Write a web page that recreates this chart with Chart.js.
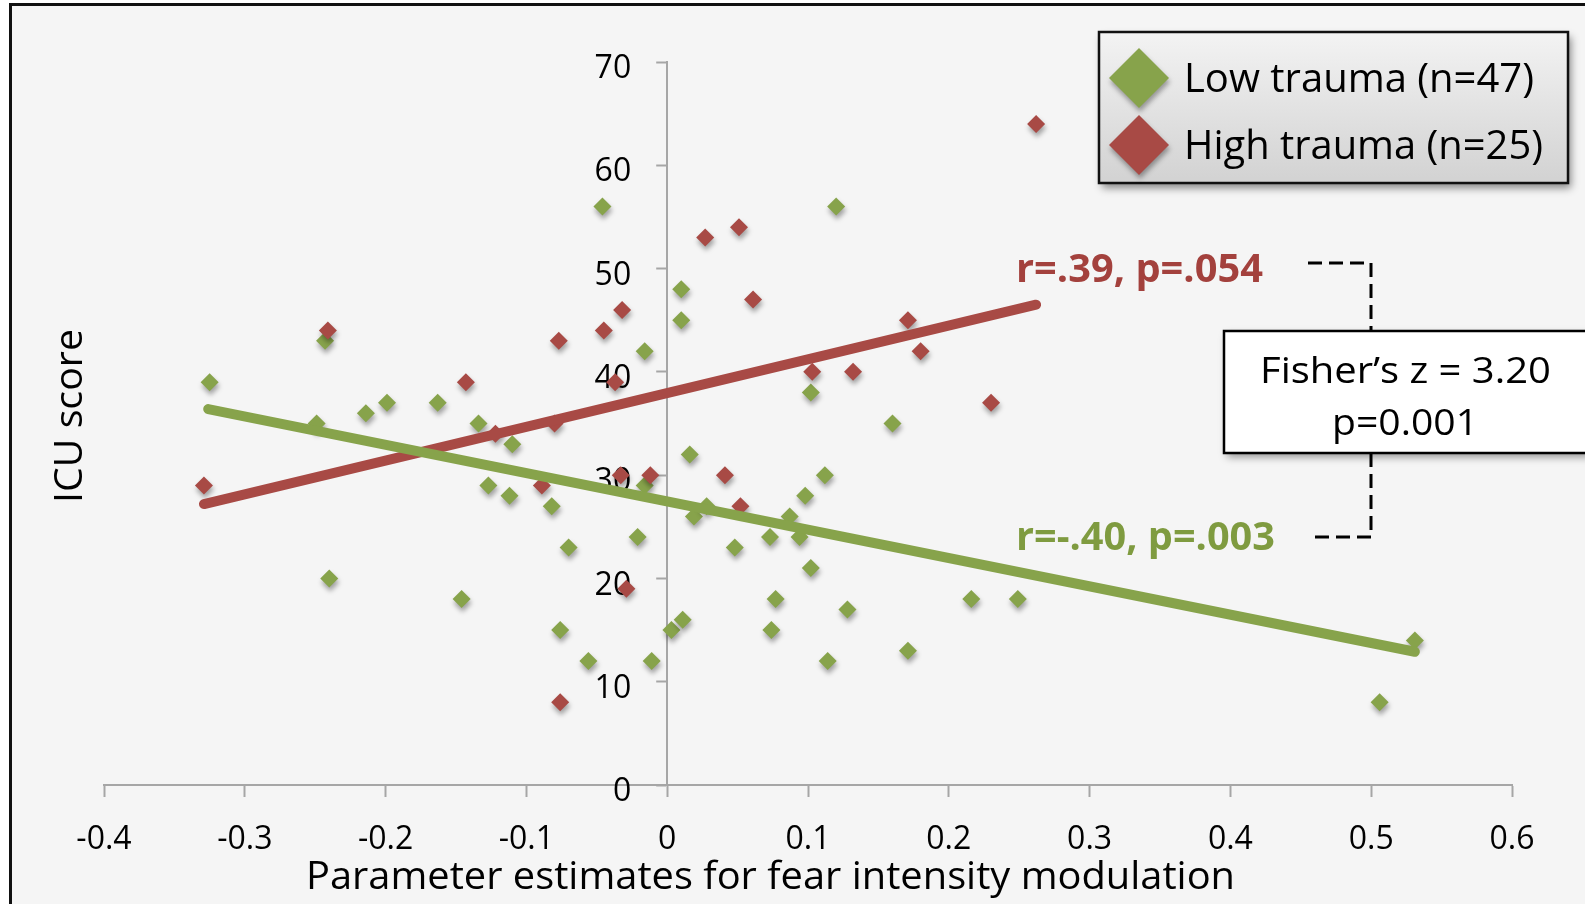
<!DOCTYPE html>
<html lang="en">
<head>
<meta charset="UTF-8">
<title>ICU score vs fear intensity modulation</title>
<style>
  body { margin: 0; background: #fff; }
  #wrap { width: 1585px; height: 904px; }
</style>
<script src="https://cdn.jsdelivr.net/npm/chart.js"></script>
</head>
<body>
<div id="wrap"><canvas id="chart" width="1585" height="904"></canvas></div>
<script>
// Low trauma group
const lowX = [-0.325, -0.243, -0.249, -0.214, -0.199, -0.163, -0.134, -0.240, -0.146, -0.127,
              -0.110, -0.112, -0.082, -0.070, -0.076, -0.056, -0.046, -0.016, -0.016, -0.021,
              -0.011, 0.003, 0.011, 0.010, 0.010, 0.016, 0.019, 0.028, 0.048, 0.073,
              0.077, 0.074, 0.087, 0.094, 0.098, 0.102, 0.102, 0.112, 0.114, 0.128,
              0.120, 0.160, 0.171, 0.216, 0.249, 0.531, 0.506];
const lowY = [39, 43, 35, 36, 37, 37, 35, 20, 18, 29,
              33, 28, 27, 23, 15, 12, 56, 42, 29, 24,
              12, 15, 16, 48, 45, 32, 26, 27, 23, 24,
              18, 15, 26, 24, 28, 21, 38, 30, 12, 17,
              56, 35, 13, 18, 18, 14, 8];

// High trauma group
const highX = [-0.329, -0.241, -0.143, -0.122, -0.089, -0.080, -0.077, -0.076, -0.045, -0.037,
               -0.032, -0.033, -0.029, -0.012, 0.027, 0.051, 0.061, 0.041, 0.052, 0.103,
               0.132, 0.171, 0.180, 0.230, 0.262];
const highY = [29, 44, 39, 34, 29, 35, 43, 8, 44, 39,
               46, 30, 19, 30, 53, 54, 47, 30, 27, 40,
               40, 45, 42, 37, 64];

// trend line end points
const lowFitX = [-0.326, 0.531];
const lowFitY = [36.4, 12.9];
const highFitX = [-0.329, 0.262];
const highFitY = [27.2, 46.5];

const xTicks = [-0.4, -0.3, -0.2, -0.1, 0, 0.1, 0.2, 0.3, 0.4, 0.5, 0.6];
const yTicks = [0, 10, 20, 30, 40, 50, 60, 70];

const seriesNames = ['Low trauma (n=47)', 'High trauma (n=25)'];
const lowStat = 'r=-.40, p=.003';
const highStat = 'r=.39, p=.054';
const fisherLines = ['Fisher\u2019s z = 3.20', 'p=0.001'];
const xTitle = 'Parameter estimates for fear intensity modulation';
const yTitle = 'ICU score';

const GREEN = '#87a34b';
const RED = '#a84a45';
const FONT = '"Open Sans", "Noto Sans", sans-serif';

function pts(xs, ys) {
    return xs.map((x, i) => ({ x: x, y: ys[i] }));
}

// draw text squeezed to a given width (the original uses a narrow font)
function fitText(ctx, text, x, y, w) {
    const m = ctx.measureText(text).width;
    ctx.save();
    ctx.translate(x, y);
    ctx.scale(w / m, 1);
    ctx.fillText(text, 0, 0);
    ctx.restore();
}

function diamond(ctx, x, y, r) {
    ctx.beginPath();
    ctx.moveTo(x - r, y);
    ctx.lineTo(x, y - r);
    ctx.lineTo(x + r, y);
    ctx.lineTo(x, y + r);
    ctx.closePath();
    ctx.fill();
}

const decor = {
    id: 'decor',
    // the y axis crosses at x = 0, so move the left axis box there
    afterLayout(chart) {
        const y = chart.scales.y;
        const x0 = chart.scales.x.getPixelForValue(0);
        y.right = x0;
        y.left = x0 - 120;
    },
    beforeDraw(chart) {
        const ctx = chart.ctx;
        ctx.save();
        ctx.fillStyle = '#fff';
        ctx.fillRect(0, 0, chart.width, chart.height);
        ctx.fillStyle = '#f5f5f5';
        ctx.fillRect(10, 4, chart.width, chart.height);
        ctx.strokeStyle = '#111';
        ctx.lineWidth = 3;
        ctx.strokeRect(10.5, 4.5, chart.width + 20, chart.height + 20);
        ctx.restore();
    },
    beforeDatasetDraw(chart, args) {
        const ctx = chart.ctx;
        ctx.save();
        if (!chart.data.datasets[args.index].showLine) {
            ctx.shadowColor = 'rgba(0,0,0,0.35)';
            ctx.shadowBlur = 5;
            ctx.shadowOffsetX = 1;
            ctx.shadowOffsetY = 4;
        }
    },
    afterDatasetDraw(chart) {
        chart.ctx.restore();
    },
    afterDraw(chart) {
        const ctx = chart.ctx;
        ctx.save();

        // axis titles
        ctx.fillStyle = '#000';
        ctx.font = '38px ' + FONT;
        ctx.textBaseline = 'alphabetic';
        fitText(ctx, xTitle, 306, 889, 929);
        ctx.save();
        ctx.translate(82, 503);
        ctx.rotate(-Math.PI / 2);
        fitText(ctx, yTitle, 0, 0, 174);
        ctx.restore();

        // r / p labels
        ctx.font = 'bold 39px ' + FONT;
        ctx.fillStyle = '#a3413d';
        fitText(ctx, highStat, 1016, 282, 247);
        ctx.fillStyle = '#7f9b40';
        fitText(ctx, lowStat, 1016, 550, 259);

        // dashed bracket
        ctx.strokeStyle = '#000';
        ctx.lineWidth = 3;
        ctx.setLineDash([14, 7]);
        ctx.beginPath();
        ctx.moveTo(1308, 263);
        ctx.lineTo(1371, 263);
        ctx.lineTo(1371, 331);
        ctx.moveTo(1371, 453);
        ctx.lineTo(1371, 537);
        ctx.lineTo(1308, 537);
        ctx.stroke();
        ctx.setLineDash([]);

        // Fisher box
        ctx.save();
        ctx.shadowColor = 'rgba(0,0,0,0.4)';
        ctx.shadowBlur = 8;
        ctx.shadowOffsetX = 3;
        ctx.shadowOffsetY = 4;
        ctx.fillStyle = '#fff';
        ctx.fillRect(1224, 331, 364, 122);
        ctx.restore();
        ctx.lineWidth = 2.5;
        ctx.strokeRect(1224, 331, 364, 122);
        ctx.fillStyle = '#000';
        ctx.font = '37px ' + FONT;
        fitText(ctx, fisherLines[0], 1260, 383, 291);
        fitText(ctx, fisherLines[1], 1332, 435, 146);

        // legend
        const lx = 1099, ly = 32, lw = 469, lh = 151;
        ctx.save();
        ctx.shadowColor = 'rgba(0,0,0,0.45)';
        ctx.shadowBlur = 8;
        ctx.shadowOffsetX = 3;
        ctx.shadowOffsetY = 5;
        const g = ctx.createLinearGradient(0, ly, 0, ly + lh);
        g.addColorStop(0, '#f3f3f3');
        g.addColorStop(1, '#d2d2d2');
        ctx.fillStyle = g;
        ctx.fillRect(lx, ly, lw, lh);
        ctx.restore();
        ctx.lineWidth = 2.5;
        ctx.strokeStyle = '#111';
        ctx.strokeRect(lx, ly, lw, lh);

        const colors = [GREEN, RED];
        const rows = [78, 145];
        const widths = [350, 359];
        seriesNames.forEach((name, i) => {
            ctx.save();
            ctx.shadowColor = 'rgba(0,0,0,0.35)';
            ctx.shadowBlur = 5;
            ctx.shadowOffsetX = 1;
            ctx.shadowOffsetY = 4;
            ctx.fillStyle = colors[i];
            diamond(ctx, 1139, rows[i], 30);
            ctx.restore();
            ctx.fillStyle = '#000';
            ctx.font = '40px ' + FONT;
            fitText(ctx, name, 1184, rows[i] + 14, widths[i]);
        });

        ctx.restore();
    }
};

const axisGrey = '#a6a6a6';
const tickFont = { family: FONT, size: 32 };

new Chart(document.getElementById('chart'), {
    type: 'scatter',
    data: {
        datasets: [
            {
                label: seriesNames[0] + ' fit',
                data: pts(lowFitX, lowFitY),
                showLine: true,
                borderColor: GREEN,
                borderWidth: 10,
                borderCapStyle: 'round',
                pointRadius: 0,
                order: 0
            },
            {
                label: seriesNames[1] + ' fit',
                data: pts(highFitX, highFitY),
                showLine: true,
                borderColor: RED,
                borderWidth: 10,
                borderCapStyle: 'round',
                pointRadius: 0,
                order: 0
            },
            {
                label: seriesNames[0],
                data: pts(lowX, lowY),
                pointStyle: 'rectRot',
                pointRadius: 9,
                borderWidth: 0,
                backgroundColor: GREEN,
                borderColor: GREEN,
                order: 2
            },
            {
                label: seriesNames[1],
                data: pts(highX, highY),
                pointStyle: 'rectRot',
                pointRadius: 9,
                borderWidth: 0,
                backgroundColor: RED,
                borderColor: RED,
                order: 1
            }
        ]
    },
    options: {
        responsive: false,
        animation: false,
        events: [],
        layout: { padding: { left: 104, top: 62, right: 73, bottom: 0 } },
        plugins: {
            legend: { display: false },
            tooltip: { enabled: false }
        },
        scales: {
            x: {
                type: 'linear',
                min: -0.4,
                max: 0.6,
                afterBuildTicks: s => { s.ticks = xTicks.map(v => ({ value: v })); },
                afterFit: s => { s.height = 119; },
                grid: { drawOnChartArea: false, tickLength: 12, tickColor: axisGrey, tickWidth: 2 },
                border: { color: axisGrey, width: 2 },
                ticks: {
                    font: tickFont,
                    color: '#000',
                    padding: 24,
                    maxRotation: 0,
                    callback: v => String(Math.round(v * 10) / 10)
                }
            },
            y: {
                type: 'linear',
                position: 'left',
                min: 0,
                max: 70,
                afterBuildTicks: s => { s.ticks = yTicks.map(v => ({ value: v })); },
                afterFit: s => { s.width = 0; },
                grid: { drawOnChartArea: false, tickLength: 11, tickColor: axisGrey, tickWidth: 2 },
                border: { color: axisGrey, width: 2 },
                ticks: {
                    font: tickFont,
                    color: '#000',
                    padding: 25,
                    labelOffset: 7
                }
            }
        }
    },
    plugins: [decor]
});
</script>
</body>
</html>
